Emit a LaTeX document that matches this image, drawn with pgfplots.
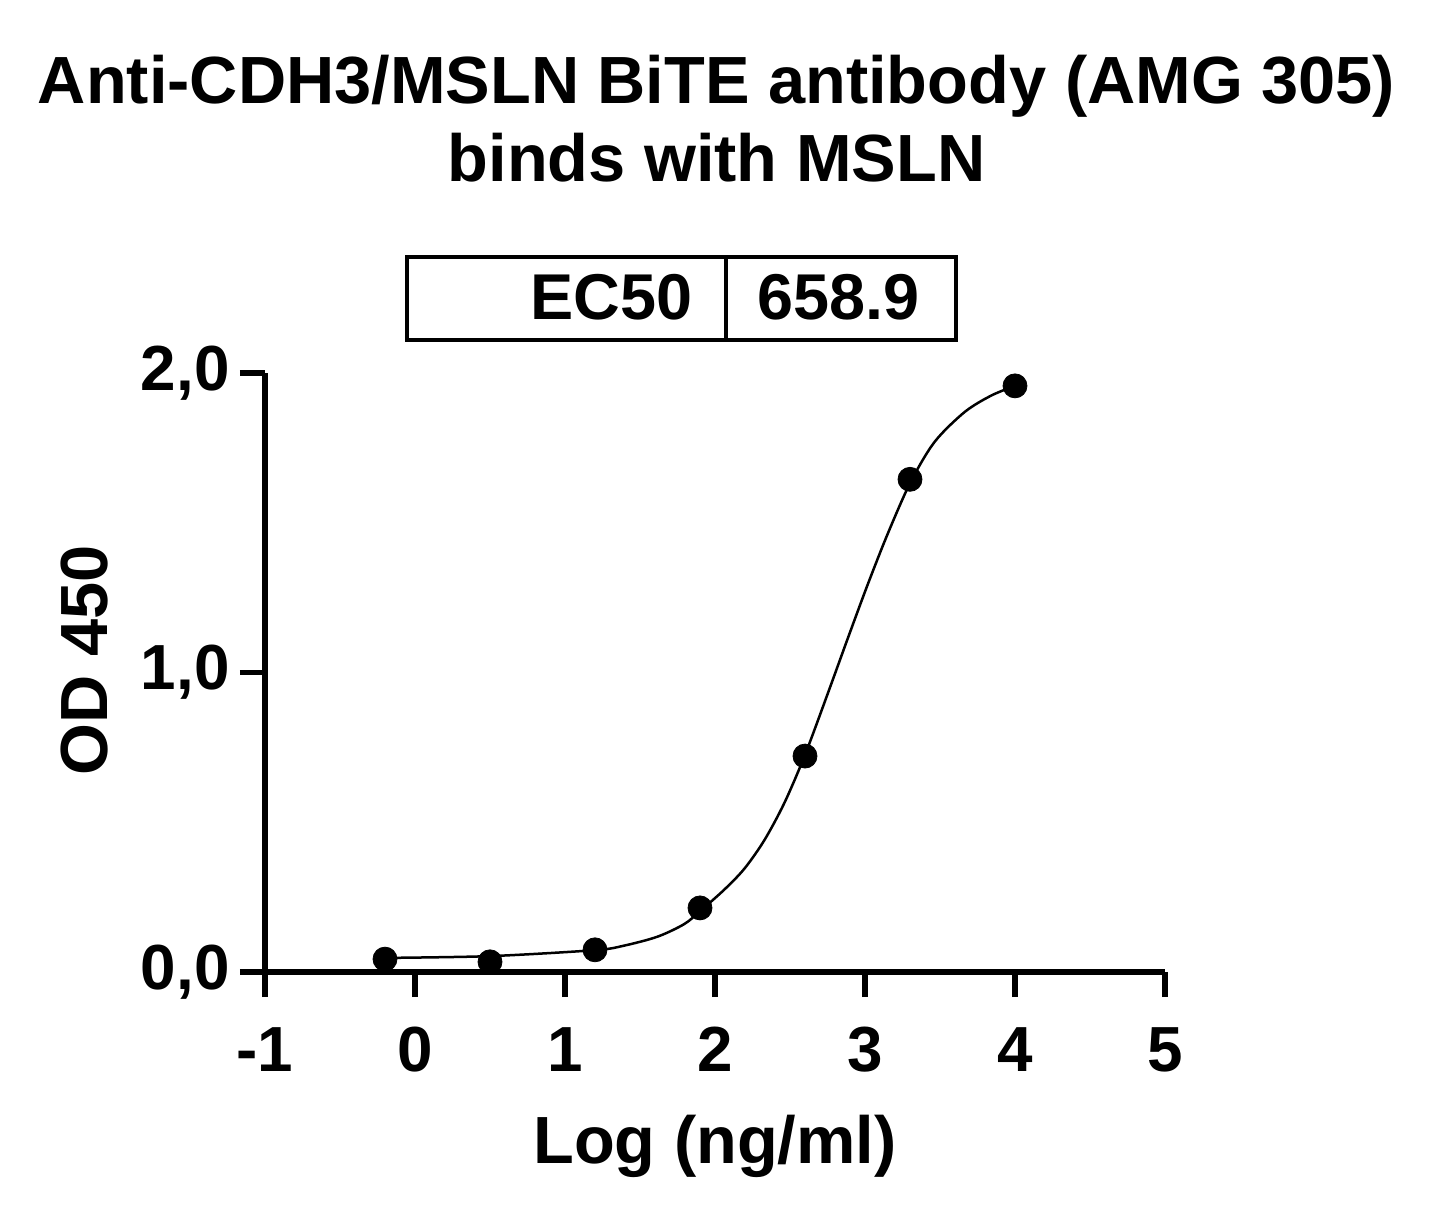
\documentclass[border=0pt]{standalone}
\usepackage{pgfplots}
\usepackage{pgfplotstable}
\pgfplotsset{compat=1.18}
\usepackage{fontspec}
\setmainfont{Liberation Sans}

% fitted 4PL curve
\pgfplotstableread{
x y
-0.2 0.047
0.5 0.053
1.2 0.073
1.394 0.088
1.617 0.118
1.795 0.160
1.9 0.203
2.062 0.275
2.196 0.345
2.329 0.440
2.463 0.565
2.6 0.725
2.752 0.930
2.886 1.115
3.019 1.295
3.153 1.465
3.303 1.635
3.464 1.770
3.665 1.870
3.843 1.925
4.0 1.957
}\fitcurve

% measured points
\pgfplotstableread{
x y
-0.2 0.043
0.5 0.034
1.2 0.074
1.9 0.214
2.6 0.721
3.3 1.645
4.0 1.957
}\points

\begin{document}
\begin{tikzpicture}
\path[use as bounding box] (0,0) rectangle (716.5bp,610bp);

\begin{axis}[
    at={(132.5bp,124bp)}, anchor=south west,
    scale only axis, width=450bp, height=299.5bp,
    xmin=-1, xmax=5, ymin=0, ymax=2,
    axis lines=left,
    axis line style={line width=2.8bp, -},
    xtick={-1,0,1,2,3,4,5},
    xticklabels={-1,0,1,2,3,4,5},
    ytick={0,1,2},
    yticklabels={{0,0},{1,0},{2,0}},
    minor tick num=0,
    tick align=outside,
    major tick length=12.5bp,
    tick style={line width=2.8bp, black},
    ticklabel style={font=\fontsize{32}{32}\selectfont\bfseries, inner sep=0pt},
    xticklabel style={anchor=north, yshift=-15bp},
    yticklabel style={anchor=east, xshift=-5bp},
    clip=false,
]
\addplot[black, line width=1.25bp, smooth, no marks] table {\fitcurve};
\addplot[black, only marks, mark=*, mark size=6bp] table {\points};
\end{axis}

\begin{scope}[font=\fontsize{33.5}{40}\selectfont\bfseries]
\node[anchor=base] at (358.25bp,558bp) {Anti-CDH3/MSLN BiTE antibody (AMG 305)};
\node[anchor=base] at (358.25bp,519bp) {binds with MSLN};
\node[anchor=base, rotate=90] at (53.5bp,280bp) {OD 450};
\node[anchor=base] at (357.5bp,28.5bp) {Log (ng/ml)};
\end{scope}

% EC50 table
\draw[line width=2bp] (203.5bp,440bp) rectangle (478bp,481.5bp);
\draw[line width=2bp] (363bp,440bp) -- (363bp,481.5bp);
\node[anchor=base east, inner sep=0pt, font=\fontsize{32.5}{36}\selectfont\bfseries] at (346.5bp,450bp) {EC50};
\node[anchor=base west, inner sep=0pt, font=\fontsize{32.5}{36}\selectfont\bfseries] at (378.5bp,450bp) {658.9};
\end{tikzpicture}
\end{document}
